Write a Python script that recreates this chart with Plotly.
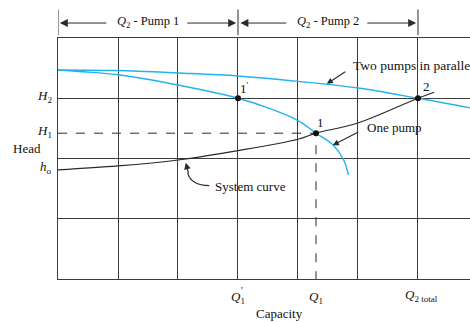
import plotly.graph_objects as go

# ---- data (capacity in grid units, head in grid units) ----
cap_one = [0, 0.42, 1, 2, 3, 3.5, 4.0, 4.3, 4.59, 4.76, 4.84]
head_one = [3.47, 3.44, 3.39, 3.22, 3.0, 2.84, 2.63, 2.42, 2.22, 1.98, 1.73]

cap_two = [0, 1, 2, 3, 4, 5, 6, 6.87]
head_two = [3.47, 3.46, 3.42, 3.37, 3.28, 3.17, 3.0, 2.84]

cap_sys = [0, 1, 2, 3, 4, 4.3, 5, 6, 6.27]
head_sys = [1.81, 1.876, 1.975, 2.13, 2.32, 2.42, 2.59, 3.0, 3.10]

Q1p, Q1, Q2tot = 3.0, 4.3, 6.0
H2, H1, h0 = 3.0, 2.42, 1.81

op_x = [Q1p, Q1, Q2tot]
op_y = [H2, H1, H2]
op_labels = ["1<sup>'</sup>", "1", "2"]

BLUE = "#22b2ee"
INK = "#2a2a2a"
GRID = "#3c3c3c"
FONT = "Liberation Serif"

fig = go.Figure()

# dashed guides for operating point 1
fig.add_trace(go.Scatter(x=[0, Q1, Q1], y=[H1, H1, 0], mode="lines",
                         line=dict(color=INK, width=1, dash="dash"), hoverinfo="skip"))

fig.add_trace(go.Scatter(x=cap_two, y=head_two, mode="lines",
                         line=dict(color=BLUE, width=1.4, shape="spline"), name="Two pumps"))
fig.add_trace(go.Scatter(x=cap_one, y=head_one, mode="lines",
                         line=dict(color=BLUE, width=1.4, shape="spline"), name="One pump"))
fig.add_trace(go.Scatter(x=cap_sys, y=head_sys, mode="lines",
                         line=dict(color=INK, width=1.2, shape="spline"), name="System curve"))
fig.add_trace(go.Scatter(x=op_x, y=op_y, mode="markers",
                         marker=dict(color="#111", size=6), hoverinfo="skip"))

tf = dict(family=FONT, size=13, color="#111")
ann = []

# operating point labels
shifts = [(7, 10), (5, 11), (9, 12)]
for x, y, t, (dx, dy) in zip(op_x, op_y, op_labels, shifts):
    ann.append(dict(x=x, y=y, text=t, showarrow=False, xshift=dx, yshift=dy,
                    font=tf))

# y-axis labels
for y, t in [(H2, "<i>H</i><sub>2</sub>"), (H1, "<i>H</i><sub>1</sub>"), (h0, "<i>h</i><sub>o</sub>")]:
    ann.append(dict(xref="paper", x=0, y=y, text=t, showarrow=False,
                    xanchor="right", xshift=-4, yshift=2, font=tf))
ann.append(dict(xref="paper", x=0, y=2.17, text="Head", showarrow=False,
                xanchor="left", xshift=-47, font=tf))

# x-axis labels
ann.append(dict(x=Q1p, yref="paper", y=0, text="<i>Q</i><sub>1</sub>", showarrow=False,
                yanchor="middle", yshift=-18, font=tf))
ann.append(dict(x=Q1p, yref="paper", y=0, text="'", showarrow=False,
                yanchor="middle", yshift=-11, xshift=4, font=dict(family=FONT, size=10, color="#111")))
ann.append(dict(x=Q1, yref="paper", y=0, text="<i>Q</i><sub>1</sub>", showarrow=False,
                yanchor="middle", yshift=-18, font=tf))
ann.append(dict(x=Q2tot, yref="paper", y=0, text="<i>Q</i><sub>2 total</sub>", showarrow=False,
                yanchor="middle", yshift=-16, xshift=4, font=tf))
ann.append(dict(x=3.7, yref="paper", y=0, text="Capacity", showarrow=False,
                yanchor="middle", yshift=-34, font=tf))

# curve callouts
ann.append(dict(x=4.88, y=3.55, text="Two pumps in parallel", showarrow=False,
                xanchor="left", yanchor="middle", font=dict(family=FONT, size=13.5, color="#111")))
ann.append(dict(x=4.48, y=3.24, ax=20, ay=-13, text="", showarrow=True,
                arrowhead=2, arrowsize=1.1, arrowwidth=1.1, arrowcolor=INK))
ann.append(dict(x=5.12, y=2.52, text="One pump", showarrow=False,
                xanchor="left", yanchor="middle", font=tf))
ann.append(dict(x=4.58, y=2.22, ax=27, ay=-14, text="", showarrow=True,
                arrowhead=2, arrowsize=1.1, arrowwidth=1.1, arrowcolor=INK))
ann.append(dict(x=2.58, y=1.53, text="System curve", showarrow=False,
                xanchor="left", yanchor="middle", font=tf))
ann.append(dict(x=2.13, y=1.93, ax=3, ay=12, text="", showarrow=True,
                arrowhead=2, arrowsize=1.1, arrowwidth=1.2, arrowcolor=INK))

# top bracket labels
yb = 1.062
for xc, t in [(1.5, "<i>Q</i><sub>2</sub> - Pump 1"), (4.5, "<i>Q</i><sub>2</sub> - Pump 2")]:
    ann.append(dict(x=xc, yref="paper", y=yb, text=t, showarrow=False,
                    yanchor="middle", yshift=1,
                    font=dict(family=FONT, size=12.5, color="#111")))
for head, tail in [(0.03, 0.83), (2.97, 2.13), (3.04, 3.83), (5.97, 5.13)]:
    ann.append(dict(x=head, y=yb, yref="paper", ax=tail, ay=0, axref="x", ayref="pixel",
                    text="", showarrow=True, arrowhead=2, arrowsize=1.6,
                    arrowwidth=1, arrowcolor=INK))

shapes = []
for xv in [0, Q1p, Q2tot]:
    shapes.append(dict(type="line", xref="x", yref="paper", x0=xv, x1=xv, y0=1.012, y1=1.118,
                       line=dict(color=INK, width=1)))
# curved leader for system curve
shapes.append(dict(type="path", xref="x", yref="y",
                   path="M 2.52,1.55 Q 2.22,1.55 2.16,1.76",
                   line=dict(color=INK, width=1.2)))

fig.update_layout(
    width=470, height=322,
    margin=dict(l=58, r=0, t=38, b=43),
    paper_bgcolor="white", plot_bgcolor="white",
    showlegend=False,
    annotations=ann, shapes=shapes,
    xaxis=dict(range=[0, 6.867], showticklabels=False, ticks="", showgrid=True,
               tick0=0, dtick=1, gridcolor=GRID, gridwidth=1, zeroline=False,
               showline=True, linecolor=GRID, linewidth=1, mirror=True, fixedrange=True),
    yaxis=dict(range=[0, 4], showticklabels=False, ticks="", showgrid=True,
               tick0=0, dtick=1, gridcolor=GRID, gridwidth=1, zeroline=False,
               showline=True, linecolor=GRID, linewidth=1, mirror=False, fixedrange=True),
)

fig.write_html("out.html", config={"displayModeBar": False},
               post_script="document.body.style.margin='0';document.body.style.overflow='hidden';")
